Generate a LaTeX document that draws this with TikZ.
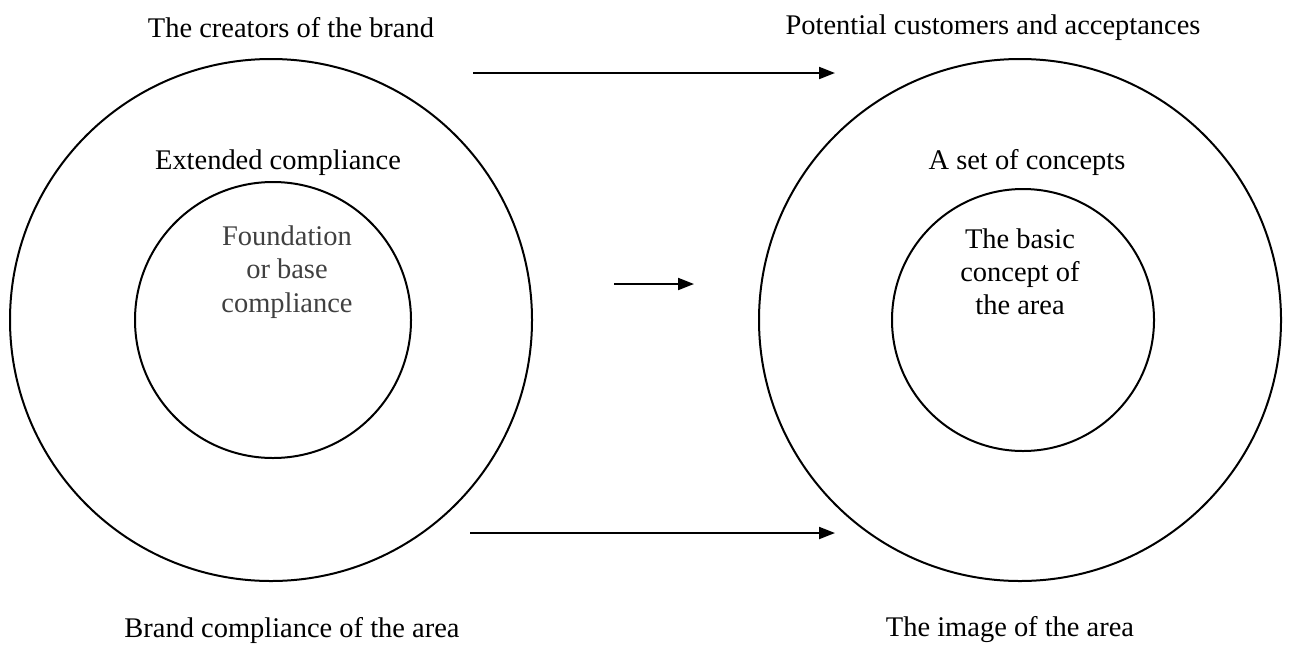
\documentclass[tikz,border=0pt]{standalone}
\usepackage{fontspec}
\setmainfont{Liberation Serif}
\usetikzlibrary{arrows.meta}
\definecolor{softgray}{HTML}{404040}

\begin{document}
\begin{tikzpicture}[x=0.02cm, y=-0.02cm, >={Triangle[length=0.32cm,width=0.24cm]}, line width=0.04cm,
  every node/.style={font=\fontsize{16.2}{18.9}\selectfont, align=center, inner sep=0pt}]
      \useasboundingbox (0,0) rectangle (1297,646);

      \node [draw, circle, minimum size=522*0.02cm, name=outerL] at (271,320) {};
      \node [draw, circle, minimum size=276*0.02cm, name=innerL] at (273,320) {};
      \node [draw, circle, minimum size=522*0.02cm, name=outerR] at (1020,320) {};
      \node [draw, circle, minimum size=262*0.02cm, name=innerR] at (1023,320) {};

      \node at (291,28) [name=creators] {The creators of the brand};
      \node at (993,28) [name=customers] {Potential customers and acceptances};
      \node at (278,163) [name=extended] {Extended compliance};
      \node at (1027,163) [name=concepts] {A set of concepts};
      \node at (287,272) [text=softgray, name=foundation] {Foundation\\or base\\compliance};
      \node at (1020,272) [name=basic] {The basic\\concept of\\the area};
      \node at (292,630) [name=brandarea] {Brand compliance of the area};
      \node at (1010,630) [name=image] {The image of the area};

      \coordinate (topA) at (473,73);
      \coordinate (topB) at (835,73);
      \coordinate (midA) at (614,284);
      \coordinate (midB) at (694,284);
      \coordinate (botA) at (470,533);
      \coordinate (botB) at (835,533);

      \draw [->] (topA) -- (topB);
      \draw [->] (midA) -- (midB);
      \draw [->] (botA) -- (botB);
\end{tikzpicture}
\end{document}
